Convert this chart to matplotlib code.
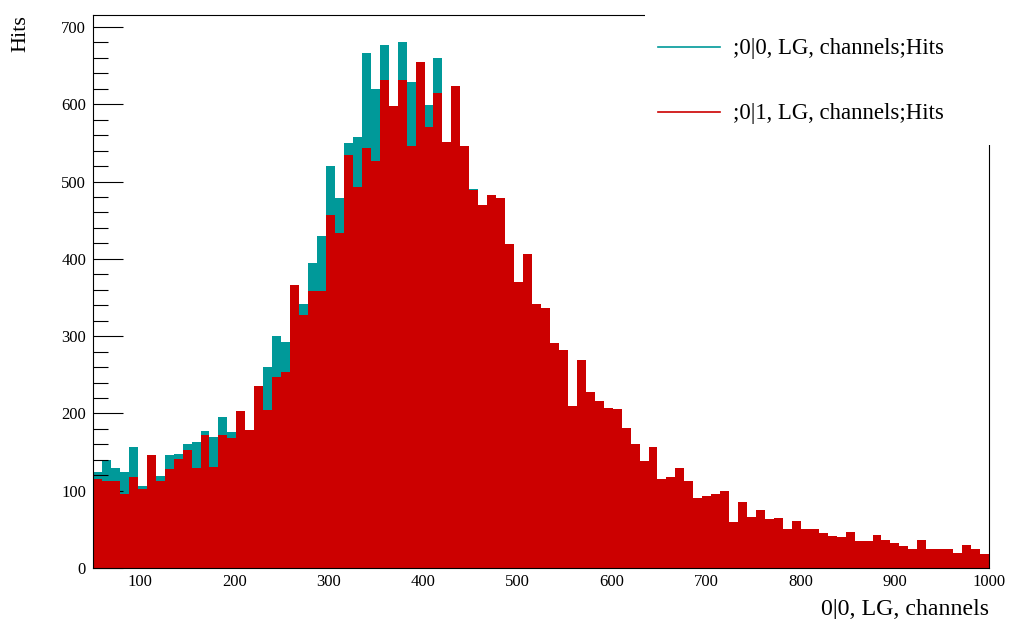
import numpy as np
import matplotlib
matplotlib.use("Agg")
import matplotlib.pyplot as plt
from matplotlib.patches import Rectangle
from matplotlib.lines import Line2D

# ---- data ----
x_min, x_max, n_bins = 50, 1000, 100
hits_0_0 = [124, 140, 130, 124, 156, 106, 146, 119, 146, 148,
            161, 163, 177, 169, 195, 176, 203, 178, 235, 260,
            300, 292, 366, 341, 394, 429, 520, 479, 550, 558,
            666, 620, 677, 598, 681, 629, 655, 599, 660, 551,
            624, 546, 491, 470, 482, 479, 419, 370, 406, 342,
            336, 291, 282, 209, 269, 228, 216, 207, 206, 181,
            160, 139, 156, 115, 118, 129, 112, 90, 93, 96,
            100, 60, 85, 66, 75, 63, 65, 51, 61, 51,
            51, 45, 42, 40, 46, 35, 35, 43, 36, 32,
            28, 24, 36, 24, 25, 24, 19, 30, 25, 18]
hits_0_1 = [115, 113, 113, 96, 118, 102, 146, 112, 128, 141,
            153, 130, 172, 131, 172, 168, 203, 178, 235, 205,
            247, 254, 366, 327, 358, 358, 457, 434, 534, 493,
            544, 526, 632, 598, 631, 546, 655, 570, 614, 551,
            624, 546, 489, 470, 482, 479, 419, 370, 406, 342,
            336, 291, 282, 209, 269, 228, 216, 207, 206, 181,
            160, 139, 156, 115, 118, 129, 112, 90, 93, 96,
            100, 60, 85, 66, 75, 63, 65, 51, 61, 51,
            51, 45, 42, 40, 46, 35, 35, 43, 36, 32,
            28, 24, 36, 24, 25, 24, 19, 30, 25, 18]
y_ticks = [0, 100, 200, 300, 400, 500, 600, 700]
x_ticks = [100, 200, 300, 400, 500, 600, 700, 800, 900, 1000]
labels = [";0|0, LG, channels;Hits", ";0|1, LG, channels;Hits"]
colors = ["#009999", "#cc0000"]

plt.rcParams['font.family'] = ['Liberation Serif', 'DejaVu Serif']

W, H = 1009, 619
fig = plt.figure(figsize=(W / 100, H / 100), dpi=100)
L, R, B, T = 93, 989, 568, 15
ax = fig.add_axes([L / W, 1 - B / H, (R - L) / W, (B - T) / H])

edges = np.linspace(x_min, x_max, n_bins + 1)
ax.stairs(hits_0_0, edges, fill=True, color=colors[0], lw=0, zorder=1)
ax.stairs(hits_0_1, edges, fill=True, color=colors[1], lw=0, zorder=2)

ax.set_xlim(x_min, x_max)
ax.set_ylim(0, 700 * (B - T) / (B - 27))
ax.set_xticks(x_ticks)
ax.set_yticks(y_ticks)
ax.set_yticks(np.arange(0, 720, 20), minor=True)
ax.tick_params(axis='x', length=0, pad=4, labelsize=12)
ax.tick_params(axis='y', which='major', direction='in', length=21.6, width=0.8,
               pad=5, labelsize=12)
ax.tick_params(axis='y', which='minor', direction='in', length=10.8, width=0.8)
for s in ax.spines.values():
    s.set_linewidth(0.8)

# axis titles
fig.text(21 / W, 1 - 15 / H, "Hits", rotation=90, ha='center', va='top', fontsize=16)
fig.text(R / W, 1 - 615 / H, "0|0, LG, channels", ha='right', va='baseline', fontsize=17.2)

# legend box (white, borderless) covering top-right of frame
fig.patches.append(Rectangle((645 / W, 1 - 145 / H), (W - 645) / W, 145 / H,
                             transform=fig.transFigure, facecolor='white',
                             edgecolor='none', zorder=5))
for yy, lab, c in zip([47, 112], labels, colors):
    fig.lines.append(Line2D([658 / W, 720 / W], [1 - yy / H, 1 - yy / H],
                            transform=fig.transFigure, color=c, lw=1.2, zorder=6))
    fig.text(733 / W, 1 - (yy + 1.5) / H, lab, ha='left', va='center', fontsize=16.4, zorder=6)

fig.savefig("out.png", dpi=100)
